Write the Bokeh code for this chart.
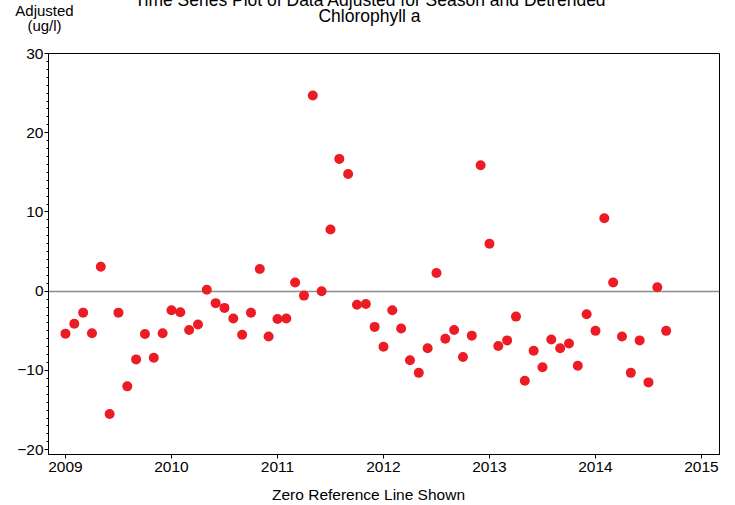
import pandas as pd
from bokeh.plotting import figure
from bokeh.models import Range1d, FixedTicker, Label
from bokeh.embed import file_html
from bokeh.resources import INLINE

# ---- data ----
title_lines = ["Time Series Plot of Data Adjusted for Season and Detrended", "Chlorophyll a"]
y_label_lines = ["Adjusted", "(ug/l)"]
x_label = "Zero Reference Line Shown"
year_ticks = [2009, 2010, 2011, 2012, 2013, 2014, 2015]
y_ticks = [-20, -10, 0, 10, 20, 30]
reference_level = [0]
start_month = "2009-01-01"
adjusted = [-5.35, -4.1, -2.7, -5.3, 3.1, -15.5, -2.7, -12.0, -8.6, -5.4, -8.4, -5.3,
            -2.4, -2.65, -4.9, -4.2, 0.2, -1.5, -2.1, -3.45, -5.5, -2.7, 2.8, -5.7,
            -3.5, -3.45, 1.1, -0.55, 24.7, 0.0, 7.8, 16.7, 14.8, -1.7, -1.6, -4.5,
            -7.0, -2.4, -4.7, -8.7, -10.3, -7.2, 2.3, -6.0, -4.9, -8.3, -5.6, 15.9,
            6.0, -6.9, -6.2, -3.2, -11.3, -7.5, -9.6, -6.1, -7.2, -6.6, -9.4, -2.9,
            -5.0, 9.2, 1.1, -5.7, -10.3, -6.2, -11.5, 0.5, -5.0]

months = pd.date_range(start_month, periods=len(adjusted), freq="MS")
dec_year = [d.year + (d.month - 1) / 12.0 for d in months]

FONT = "Liberation Sans"
X0, X1 = 2008.84, 2015.17
Y0, Y1 = -20.6, 30.0
EXTRA = 120  # hidden space above the visible page, holds the text panels

# frame at page x 48..719, y 53..454
p = figure(width=735, height=505 + EXTRA, output_backend="svg", toolbar_location=None,
           x_range=Range1d(X0, X1), y_range=Range1d(Y0, Y1),
           min_border_left=48, min_border_right=16, min_border_top=53 + EXTRA,
           min_border_bottom=51)
p.styles = {"margin-top": f"-{EXTRA}px"}
p.grid.visible = False
p.outline_line_color = "black"
p.outline_line_width = 1
p.background_fill_color = "white"
p.border_fill_color = "white"

# axes
xa = p.xaxis[0]
xa.ticker = FixedTicker(ticks=year_ticks)
xa.major_tick_out = 4
xa.major_tick_in = 0
xa.minor_tick_out = 0
xa.minor_tick_in = 0
xa.major_label_standoff = 3
xa.major_label_text_font = FONT
xa.major_label_text_font_size = "15.5px"
xa.major_label_text_color = "black"
xa.axis_line_color = "black"

ya = p.yaxis[0]
minor = [v for v in range(-20, 31)]
ya.ticker = FixedTicker(ticks=y_ticks, minor_ticks=minor)
ya.major_tick_out = 4
ya.major_tick_in = 0
ya.minor_tick_out = 2
ya.minor_tick_in = 0
ya.major_label_standoff = 1
ya.major_label_text_font = FONT
ya.major_label_text_font_size = "15.5px"
ya.major_label_text_color = "black"
ya.axis_line_color = "black"

# zero reference line (glyph)
p.hspan(y=reference_level, line_color="#8c8c8c", line_width=1.5)

# points
p.scatter(dec_year, adjusted, size=10, fill_color="#ED1C24", line_color="#ED1C24", line_width=0)

# texts: page pixel positions (text centres) converted to data coordinates; the labels
# live in the (partly hidden) top panel so that they are not clipped to the plot frame
def dx(px):
    return X0 + (px - 48) / 106.0

def dy(py):
    return Y1 - (py - 53) / 7.925

def add_text(txt, px, py, size):
    p.add_layout(Label(x=dx(px), y=dy(py), text=txt, text_align="center",
                       text_baseline="middle", text_font=FONT, text_font_size=size,
                       text_color="black"), "above")

add_text(title_lines[0], 370, -1, "17.5px")
add_text(title_lines[1], 369, 15, "17.5px")
add_text(y_label_lines[0], 44, 9.5, "15px")
add_text(y_label_lines[1], 44, 24.5, "15px")
add_text(x_label, 368, 494, "15.5px")

open("out.html", "w").write(file_html(p, INLINE))
